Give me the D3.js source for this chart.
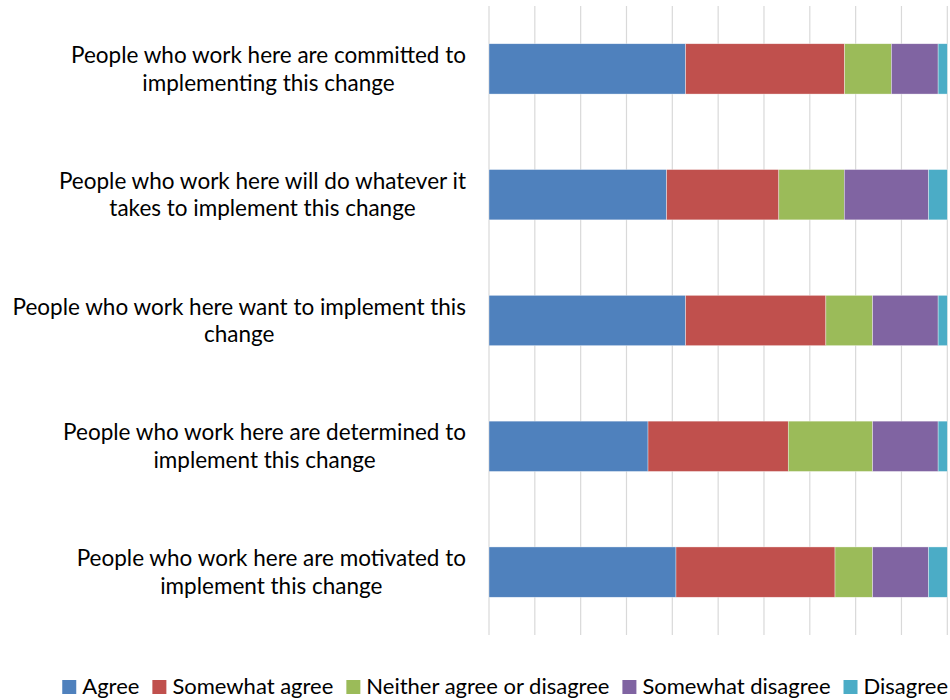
<!DOCTYPE html>
<script src="https://cdn.jsdelivr.net/npm/d3@7"></script>
<html>
    <head>
        <style>
            body { margin: 0; background: #fff; }
            text { font-family: Lato, "Open Sans", sans-serif; fill: #000; }
        </style>
    </head>
    <body>
        <div id="chart-div"></div>
        <script>
            // category labels, split into lines the way the chart wraps them
            const categoryLines = [
                ["People who work here are committed to", "implementing this change"],
                ["People who work here will do whatever it", "takes to implement this change"],
                ["People who work here want to implement this", "change"],
                ["People who work here are determined to", "implement this change"],
                ["People who work here are motivated to", "implement this change"]
            ];
            const seriesNames = ["Agree", "Somewhat agree", "Neither agree or disagree", "Somewhat disagree", "Disagree"];
            // percent of answers
            const agree = [42.9, 38.8, 42.9, 34.7, 40.8];
            const somewhatAgree = [34.7, 24.5, 30.6, 30.6, 34.7];
            const neither = [10.2, 14.3, 10.2, 18.4, 8.2];
            const somewhatDisagree = [10.2, 18.4, 14.3, 14.3, 12.2];
            const disagree = [2.0, 4.1, 2.0, 2.0, 4.1];
            const gridTicks = [0, 0.1, 0.2, 0.3, 0.4, 0.5, 0.6, 0.7, 0.8, 0.9, 1];

            const colors = ["#4F81BD", "#C0504D", "#9BBB59", "#8064A2", "#4BACC6"];

            const width = 950;
            const height = 700;

            const categories = categoryLines.map(function (l) { return l.join(" "); });

            // build rows for d3.stack
            const seriesValues = [agree, somewhatAgree, neither, somewhatDisagree, disagree];
            const rows = categories.map(function (c, i) {
                const row = { category: c };
                seriesNames.forEach(function (s, j) { row[s] = seriesValues[j][i]; });
                return row;
            });

            const stacked = d3.stack()
                .keys(seriesNames)
                .offset(d3.stackOffsetExpand)(rows);

            var svg = d3.select("#chart-div")
                .append("svg")
                .attr("width", width)
                .attr("height", height);

            // scales
            const x = d3.scaleLinear()
                .domain([0, 1])
                .range([489, 947.3]);

            const y = d3.scaleBand()
                .domain(categories)
                .range([6, 635])
                .paddingInner(0.6)
                .paddingOuter(0.3);

            // vertical gridlines
            svg.append("g")
                .selectAll("line")
                .data(gridTicks)
                .enter()
                .append("line")
                .attr("x1", function (d) { return x(d); })
                .attr("x2", function (d) { return x(d); })
                .attr("y1", y.range()[0])
                .attr("y2", y.range()[1])
                .attr("stroke", "#d9d9d9")
                .attr("stroke-width", 1.2);

            // stacked bars
            svg.append("g")
                .selectAll("g")
                .data(stacked)
                .enter()
                .append("g")
                .attr("fill", function (d, i) { return colors[i]; })
                .selectAll("rect")
                .data(function (d) { return d; })
                .enter()
                .append("rect")
                .attr("x", function (d) { return x(d[0]); })
                .attr("y", function (d) { return y(d.data.category); })
                .attr("width", function (d) { return x(d[1]) - x(d[0]); })
                .attr("height", y.bandwidth())
                .attr("stroke", "rgba(255,255,255,0.6)")
                .attr("stroke-width", 0.6);

            // category labels: lines centred, block right aligned to the axis
            const labelSize = 22.5;
            const lineHeight = 27.5;
            const labelRight = 466;

            const labels = svg.append("g")
                .attr("font-size", labelSize);

            categoryLines.forEach(function (lines, k) {
                const c = categories[k];
                const probe = labels.append("text");
                const widths = lines.map(function (l) {
                    probe.text(l);
                    return probe.node().getComputedTextLength();
                });
                probe.remove();
                const cx = labelRight - d3.max(widths) / 2;
                const cy = y(c) + y.bandwidth() / 2;
                const t = labels.append("text")
                    .attr("text-anchor", "middle");
                lines.forEach(function (l, i) {
                    t.append("tspan")
                        .attr("x", cx)
                        .attr("y", cy + (i - (lines.length - 1) / 2) * lineHeight)
                        .attr("dy", "0.35em")
                        .text(l);
                });
            });

            // legend, laid out left to right under the chart
            const legendSize = 22;
            const swatch = 14;
            const legend = svg.append("g")
                .attr("font-size", legendSize);
            const ly = 686;
            const items = seriesNames.map(function (s, i) {
                const g = legend.append("g");
                g.append("rect")
                    .attr("y", ly + 1 - swatch / 2)
                    .attr("width", swatch)
                    .attr("height", swatch)
                    .attr("fill", colors[i]);
                const t = g.append("text")
                    .attr("x", swatch + 6)
                    .attr("y", ly)
                    .attr("dy", "0.35em")
                    .text(s);
                return { g: g, w: swatch + 6 + t.node().getComputedTextLength() };
            });
            const gap = 13;
            const total = d3.sum(items, function (d) { return d.w; }) + gap * (items.length - 1);
            let lx = 948 - total;
            items.forEach(function (d) {
                d.g.attr("transform", "translate(" + lx + ",0)");
                lx += d.w + gap;
            });
        </script>
    </body>
</html>
